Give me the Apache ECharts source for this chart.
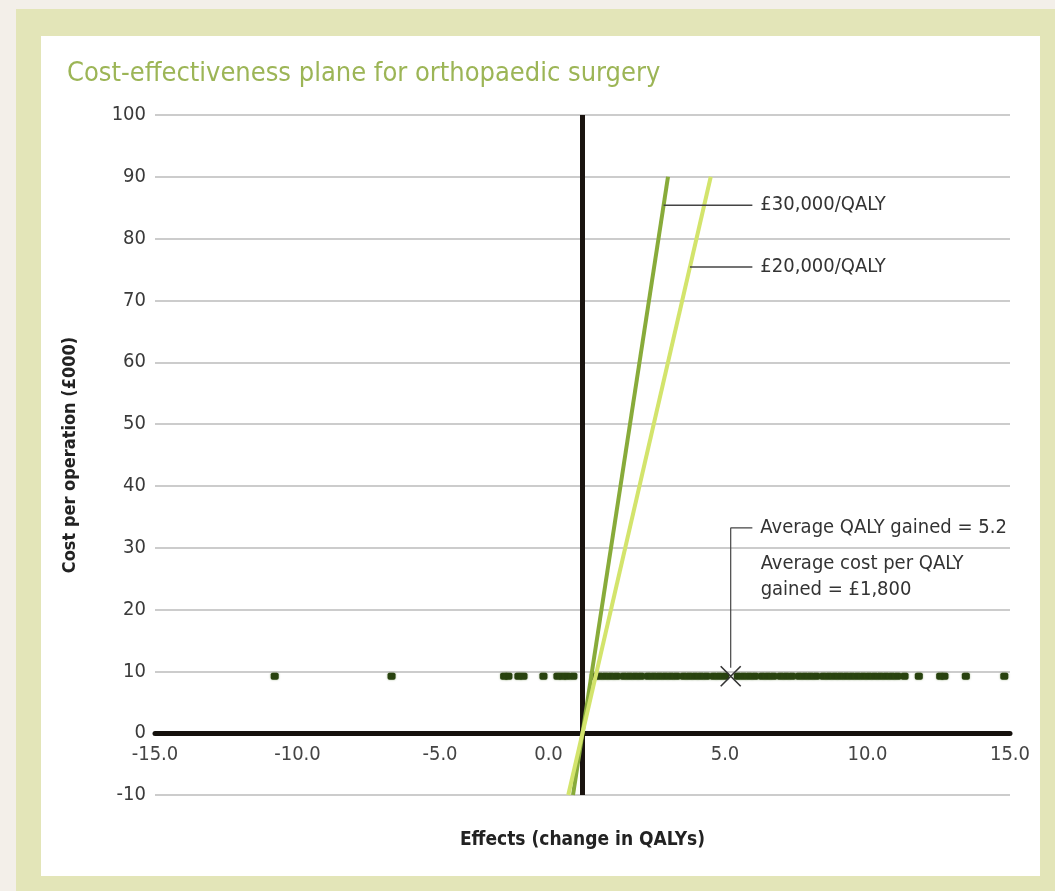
<!DOCTYPE html>
<html>
<head>
<meta charset="utf-8">
<script src="https://cdn.jsdelivr.net/npm/echarts@6/dist/echarts.min.js"></script>
<style>
html,body{margin:0;padding:0;background:#f3efe9;}
#c{width:1055px;height:891px;}
</style>
</head>
<body>
<div id="c"></div>
<script>
// ---- data ----
const titleText = 'Cost-effectiveness plane for orthopaedic surgery';
const yTicks = [-10, 0, 10, 20, 30, 40, 50, 60, 70, 80, 90, 100];
const xTicks = [-15, -10, -5, 0, 5, 10, 15];
// effects (change in QALYs) for each patient
const effects = [-10.8, -6.7,
  -2.75, -2.6, -2.25, -2.07, -1.37, -0.88, -0.7, -0.53, -0.32,
  0.4, 0.6, 0.8, 1.0, 1.2, 1.45, 1.65, 1.85, 2.05, 2.3, 2.5, 2.7, 2.9, 3.1, 3.3, 3.55, 3.75, 3.95, 4.15, 4.35,
  4.6, 4.8, 5.0, 5.45, 5.65, 5.85, 6.05, 6.3, 6.5, 6.7, 6.95, 7.15, 7.35, 7.6, 7.8, 8.0, 8.2, 8.45, 8.65,
  8.85, 9.05, 9.25, 9.45, 9.65, 9.85, 10.05, 10.25, 10.45, 10.65, 10.85, 11.05, 11.3,
  11.8, 12.55, 12.7, 13.45, 14.8];
const pointCost = 9.2;            // cost per operation (£000) of each point
const meanEffect = 5.2;           // average QALY gained
const thresholds = [30, 20];      // £000 per QALY
const thresholdNames = ['£30,000/QALY', '£20,000/QALY'];
const thresholdLabelY = [85.4, 75.4];
const labelX = 5.96;              // where leader lines end
const avgLeaderY = 33.2;
const avgText1 = 'Average QALY gained = 5.2';
const avgText2 = 'Average cost per QALY\ngained = £1,800';
const avgText2Pos = [6.25, 25.3];

const FONT = "'Liberation Sans Narrow','DejaVu Sans Condensed','Open Sans',sans-serif";

const chart = echarts.init(document.getElementById('c'), null, {renderer: 'canvas'});

const thrColors = ['#88ab3a', '#d3e46c'];
const series = [];

// scatter of patients
series.push({
  type: 'scatter', z: 4,
  data: effects.map(e => [e, pointCost]),
  symbol: 'roundRect', symbolSize: [8, 7],
  itemStyle: {color: '#28420f', opacity: 1, shadowColor: 'rgba(60,100,20,0.5)', shadowBlur: 2},
  silent: true,
  markLine: {
    silent: true, symbol: 'none', animation: false,
    lineStyle: {color: '#1a1410', width: 5, type: 'solid'},
    label: {show: false},
    data: [{xAxis: 0}]
  }
});

// threshold lines cost = t * QALY
thresholds.forEach((t, i) => {
  series.push({
    type: 'line', z: 5, silent: true, symbol: 'none',
    data: [[-10 / t, -10], [90 / t, 90]],
    lineStyle: {color: thrColors[i], width: 4}
  });
  series.push({
    type: 'line', z: 6, silent: true, symbol: 'none',
    data: [[thresholdLabelY[i] / t, thresholdLabelY[i]], [labelX, thresholdLabelY[i]]],
    lineStyle: {color: '#444', width: 1.5},
    endLabel: {show: true, formatter: thresholdNames[i], color: '#333', fontSize: 20, fontFamily: FONT, distance: 8}
  });
});

// average leader line
series.push({
  type: 'line', z: 6, silent: true, symbol: 'none',
  data: [[meanEffect, pointCost + 1.4], [meanEffect, avgLeaderY], [labelX, avgLeaderY]],
  lineStyle: {color: '#444', width: 1.2},
  endLabel: {show: true, formatter: avgText1, color: '#333', fontSize: 20, fontFamily: FONT, distance: 8}
});
// mean marker X
series.push({
  type: 'scatter', z: 7, silent: true,
  data: [[meanEffect, pointCost]],
  symbol: 'path://M0,0L10,10M10,0L0,10', symbolSize: 20,
  itemStyle: {color: 'rgba(0,0,0,0)', borderColor: '#333', borderWidth: 1.6, opacity: 1}
});
// second annotation text
series.push({
  type: 'scatter', z: 7, silent: true,
  data: [avgText2Pos], symbolSize: 0,
  itemStyle: {opacity: 1},
  label: {show: true, position: 'right', distance: 0, formatter: avgText2,
    color: '#333', fontSize: 20, lineHeight: 26, fontFamily: FONT}
});

chart.setOption({
  animation: false,
  backgroundColor: 'transparent',
  graphic: [
    {type: 'rect', z: -10, shape: {x: 16, y: 9, width: 1039, height: 882}, style: {fill: '#e3e5b8'}},
    {type: 'rect', z: -9, shape: {x: 41, y: 36, width: 999, height: 840}, style: {fill: '#ffffff'}}
  ],
  title: {
    text: titleText, left: 62, top: 55,
    textStyle: {color: '#9cb556', fontSize: 27, fontWeight: 'normal', fontFamily: FONT}
  },
  grid: {left: 155, right: 45, top: 115, bottom: 96, outerBoundsMode: 'none', containLabel: false},
  xAxis: {
    type: 'value', min: -15, max: 15, interval: 5,
    axisLine: {onZero: true, lineStyle: {color: '#15110d', width: 5}},
    axisTick: {show: false},
    splitLine: {show: false},
    axisLabel: {
      margin: -50, color: '#444', fontSize: 20, fontFamily: FONT,
      formatter: v => v === 0 ? '{z|0.0}' : v.toFixed(1),
      rich: {z: {padding: [0, 68, 0, 0], color: '#444', fontSize: 20, fontFamily: FONT}}
    },
    name: 'Effects (change in QALYs)', nameLocation: 'middle', nameGap: 36,
    nameTextStyle: {color: '#222', fontSize: 19, fontWeight: 'bold', fontFamily: FONT}
  },
  yAxis: {
    type: 'value', min: -10, max: 100, interval: 10,
    axisLine: {show: false}, axisTick: {show: false},
    splitLine: {lineStyle: {color: '#cccccc', width: 2}},
    axisLabel: {margin: 9, color: '#3a3a3a', fontSize: 20, fontFamily: FONT},
    name: 'Cost per operation (£000)', nameLocation: 'middle', nameGap: 76,
    nameTextStyle: {color: '#222', fontSize: 18, fontWeight: 'bold', fontFamily: FONT}
  },
  series: series
});
</script>
</body>
</html>
